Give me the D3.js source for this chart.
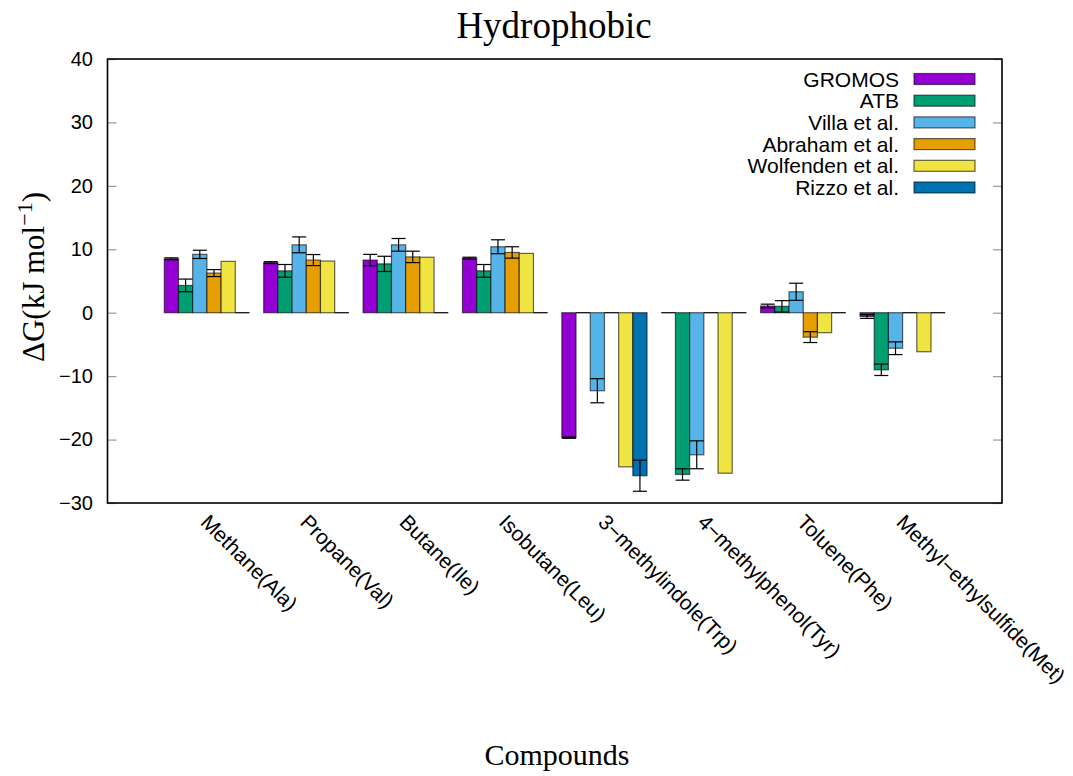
<!DOCTYPE html>
<html>
<head>
<meta charset="utf-8">
<script src="https://cdn.jsdelivr.net/npm/d3@7"></script>
<style>
body{margin:0;background:#fff;}
svg{display:block;}
</style>
</head>
<body>
<svg id="chart" width="1073" height="776"></svg>
<script>
const categories = ["Methane(Ala)","Propane(Val)","Butane(Ile)","Isobutane(Leu)","3\u2212methylindole(Trp)","4\u2212methylphenol(Tyr)","Toluene(Phe)","Methyl\u2212ethylsulfide(Met)"];
const seriesNames = ["GROMOS","ATB","Villa et al.","Abraham et al.","Wolfenden et al.","Rizzo et al."];
const seriesColors = ["#9400D3","#009E73","#56B4E9","#E69F00","#F0E442","#0072B2"];
// values (null = missing, drawn as zero-height bar)
const gromos     = [8.5, 7.9, 8.3, 8.6, -19.7, null, 1.05, -0.6];
const gromosErr  = [0.15, 0.15, 0.9, 0.15, 0.1, null, 0.3, 0.3];
const atb        = [4.3, 6.6, 7.7, 6.6, null, -25.5, 1.0, -9.0];
const atbErr     = [1.0, 1.0, 1.2, 1.0, null, 0.9, 0.9, 0.9];
const villa      = [9.2, 10.7, 10.7, 10.4, -12.3, -22.4, 3.3, -5.6];
const villaErr   = [0.65, 1.25, 1.0, 1.1, 1.9, 2.2, 1.35, 1.0];
const abraham    = [6.25, 8.3, 8.8, 9.5, null, null, -3.85, null];
const abrahamErr = [0.55, 0.87, 0.9, 0.9, null, null, 0.85, null];
const wolfenden  = [8.1, 8.15, 8.75, 9.35, -24.3, -25.3, -3.15, -6.15];
const rizzo      = [null, null, null, null, -25.7, null, null, null];
const rizzoErr   = [null, null, null, null, 2.45, null, null, null];
const yTicks = [-30,-20,-10,0,10,20,30,40];

const seriesVals = [gromos, atb, villa, abraham, wolfenden, rizzo];
const seriesErrs = [gromosErr, atbErr, villaErr, abrahamErr, null, rizzoErr];

const svg = d3.select("#chart");
const L = 107.5, R = 1002, T = 59, B = 503;

const x = d3.scaleLinear().domain([-1, 8]).range([L, R]);
const y = d3.scaleLinear().domain([-30, 40]).range([B, T]);
const slot = 1/7; // 6 bars + gap

const sans = "Liberation Sans, Arial, Helvetica, sans-serif";
const serif = "Liberation Serif, Times New Roman, serif";

// ticks (inside, left and right mirror)
const yAxisL = d3.axisLeft(y).tickValues(yTicks).tickSize(-9).tickPadding(14.5);
const gL = svg.append("g").attr("transform", `translate(${L},0)`).call(yAxisL);
gL.select(".domain").remove();
gL.selectAll(".tick line").attr("stroke", "#999").attr("stroke-width", 1.2);
gL.selectAll(".tick text").attr("font-family", sans).attr("font-size", 20).attr("fill", "#000");

const yAxisR = d3.axisRight(y).tickValues(yTicks).tickSize(-9).tickFormat("");
const gR = svg.append("g").attr("transform", `translate(${R},0)`).call(yAxisR);
gR.select(".domain").remove();
gR.selectAll(".tick line").attr("stroke", "#999").attr("stroke-width", 1.2);

// bars
const barsG = svg.append("g");
seriesVals.forEach((vals, s) => {
  vals.forEach((v, i) => {
    const x0 = x(i - 3*slot + s*slot);
    const x1 = x(i - 3*slot + (s+1)*slot);
    if (v === null) {
      barsG.append("line")
        .attr("x1", x0).attr("x2", x1).attr("y1", y(0)).attr("y2", y(0))
        .attr("stroke", "#000").attr("stroke-width", 1.2);
      return;
    }
    barsG.append("rect")
      .attr("x", x0).attr("width", x1 - x0)
      .attr("y", Math.min(y(v), y(0)))
      .attr("height", Math.abs(y(v) - y(0)))
      .attr("fill", seriesColors[s])
      .attr("stroke", "rgba(0,0,0,0.6)").attr("stroke-width", 1.2);
  });
});
// error bars
seriesVals.forEach((vals, s) => {
  const errs = seriesErrs[s];
  if (!errs) return;
  vals.forEach((v, i) => {
    const e = errs[i];
    if (v === null || e === null) return;
    const cx = x(i - 3*slot + (s+0.5)*slot);
    const hw = 7;
    const g = barsG.append("g").attr("stroke", "#000").attr("stroke-width", 1.2);
    g.append("line").attr("x1", cx).attr("x2", cx).attr("y1", y(v - e)).attr("y2", y(v + e));
    g.append("line").attr("x1", cx - hw).attr("x2", cx + hw).attr("y1", y(v - e)).attr("y2", y(v - e));
    g.append("line").attr("x1", cx - hw).attr("x2", cx + hw).attr("y1", y(v + e)).attr("y2", y(v + e));
  });
});

// border
svg.append("rect").attr("x", L).attr("y", T).attr("width", R - L).attr("height", B - T)
  .attr("fill", "none").attr("stroke", "#000").attr("stroke-width", 1.6);

// x category labels rotated
categories.forEach((c, i) => {
  const px = x(i) + 3, py = B + 10;
  svg.append("text")
    .attr("transform", `translate(${px},${py}) rotate(45)`)
    .attr("font-family", sans)
    .attr("font-size", 21)
    .attr("dy", "0.7em")
    .attr("text-anchor", "start")
    .text(c);
});

// legend
const legG = svg.append("g");
seriesNames.forEach((n, s) => {
  const cy = 79 + s * 21.7;
  legG.append("text")
    .attr("x", 899).attr("y", cy).attr("dy", "0.36em")
    .attr("text-anchor", "end")
    .attr("font-family", sans)
    .attr("font-size", 21)
    .text(n);
  legG.append("rect")
    .attr("x", 914).attr("y", cy - 5.5).attr("width", 61).attr("height", 11)
    .attr("fill", seriesColors[s]).attr("stroke", "rgba(0,0,0,0.6)").attr("stroke-width", 1.2);
});

// title
svg.append("text").attr("x", 554).attr("y", 38).attr("text-anchor", "middle")
  .attr("font-family", serif).attr("font-size", 37)
  .text("Hydrophobic");

// y label
const yl = svg.append("text")
  .attr("transform", `translate(44,277) rotate(-90)`)
  .attr("text-anchor", "middle")
  .attr("font-family", serif).attr("font-size", 31);
yl.append("tspan").text("\u0394G(kJ mol");
yl.append("tspan").attr("dy", -12).attr("font-size", 22).text("\u22121");
yl.append("tspan").attr("dy", 12).text(")");

// x label
svg.append("text").attr("x", 557).attr("y", 765).attr("text-anchor", "middle")
  .attr("font-family", serif).attr("font-size", 30)
  .text("Compounds");
</script>
</body>
</html>
